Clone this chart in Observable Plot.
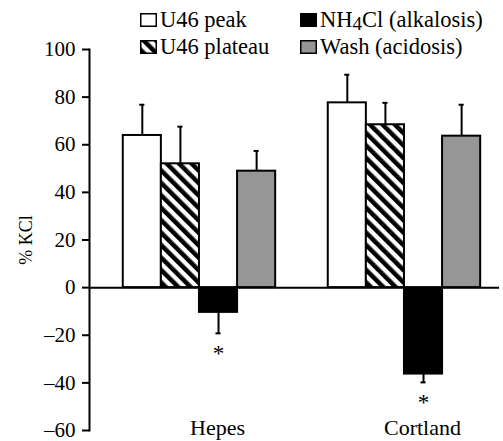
<!DOCTYPE html>
<html>
<head>
<meta charset="utf-8">
<script src="https://cdn.jsdelivr.net/npm/d3@7"></script>
<script src="https://cdn.jsdelivr.net/npm/@observablehq/plot@0.6"></script>
<style>
  html, body { margin: 0; padding: 0; background: white; overflow: hidden; }
  #wrap { position: relative; width: 503px; height: 441px; font-family: "Liberation Serif", "Times New Roman", serif; }
  #legend { position: absolute; left: 140px; top: 6px; display: grid; grid-template-columns: 160px auto; grid-template-rows: 27px 27px; grid-auto-flow: column; font-size: 22.5px; color: black; }
  .item { display: flex; align-items: baseline; height: 27px; line-height: 27px; white-space: nowrap; }
  .item svg { margin-right: 3px; flex: none; }
  sub { font-size: 0.85em; vertical-align: -0.15em; line-height: 0; }
</style>
</head>
<body>
<div id="wrap"><div id="legend"></div></div>
<script>
// ---- data ----
const groups = ["Hepes", "Cortland"];
const series = ["U46 peak", "U46 plateau", "NH4Cl (alkalosis)", "Wash (acidosis)"];
const hepesMean = [63.9, 52.0, -10.4, 48.9];
const hepesErr = [12.9, 15.6, 8.8, 8.5];
const cortlandMean = [77.6, 68.4, -36.3, 63.6];
const cortlandErr = [11.8, 9.2, 3.5, 13.2];
const hepesSig = [false, false, true, false];
const cortlandSig = [false, false, true, false];
const yTicks = [-60, -40, -20, 0, 20, 40, 60, 80, 100];
const yLabel = "% KCl";

// ---- styles ----
const fills = ["white", "url(#hatch)", "black", "#969696"];

const table = [];
[[hepesMean, hepesErr, hepesSig], [cortlandMean, cortlandErr, cortlandSig]].forEach(([m, e, s], gi) => {
  series.forEach((name, i) => {
    table.push({group: groups[gi], series: name, value: m[i], err: e[i], sig: s[i], end: m[i] + Math.sign(m[i]) * e[i]});
  });
});

const chart = Plot.plot({
  width: 503,
  height: 441,
  marginTop: 49,
  marginBottom: 11,
  marginLeft: 89,
  marginRight: 4,
  style: {fontFamily: "'Liberation Serif', 'Times New Roman', serif", fontSize: "21px", background: "white", color: "black", overflow: "visible"},
  fx: {domain: groups, padding: 0, round: false},
  x: {domain: series, paddingInner: 0, paddingOuter: 0.69, align: 0.642, round: false, axis: null},
  y: {domain: [-60, 100]},
  color: {domain: series, range: fills},
  marks: [
    Plot.barY(table, {fx: "group", x: "series", y: "value", fill: "series", stroke: "black", strokeWidth: 2}),
    Plot.ruleY([0], {stroke: "black", strokeWidth: 2}),
    Plot.ruleX(table, {fx: "group", x: "series", y1: "value", y2: "end", stroke: "black", strokeWidth: 2}),
    Plot.tickY(table, {fx: "group", x: "series", y: "end", stroke: "black", strokeWidth: 2, insetLeft: 16.5, insetRight: 16.5}),
    Plot.text(table.filter(d => d.sig), {fx: "group", x: "series", y: "end", text: () => "*", dy: 20, fontSize: 23}),
    Plot.frame({anchor: "left", facetAnchor: "left", stroke: "black", strokeWidth: 2}),
    Plot.axisY({ticks: yTicks, tickSize: 7, tickPadding: 7, strokeWidth: 2, fontSize: 21, label: null, tickFormat: d => d < 0 ? "\u2013" + Math.abs(d) : String(d)}),
    Plot.axisY({ticks: [], tickSize: 0, label: yLabel, labelAnchor: "center", labelArrow: "none", labelOffset: 70, fontSize: 18}),
    Plot.axisFx({anchor: "bottom", tickSize: 0, tickPadding: 0, dy: -11, dx: 25.5, fontSize: 22, label: null})
  ]
});

const svg = chart.tagName.toLowerCase() === "svg" ? chart : chart.querySelector("svg");
const defs = document.createElementNS("http://www.w3.org/2000/svg", "defs");
defs.innerHTML = '<pattern id="hatch" patternUnits="userSpaceOnUse" width="8.8" height="8.8" patternTransform="rotate(-45)"><rect width="8.8" height="8.8" fill="white"/><rect width="4.5" height="8.8" fill="black"/></pattern>';
svg.prepend(defs);

const wrap = document.getElementById("wrap");
wrap.prepend(chart);

// legend
const legend = document.getElementById("legend");
series.forEach((name, i) => {
  const item = document.createElement("div");
  item.className = "item";
  const label = name.replace("NH4", "NH<sub>4</sub>");
  item.innerHTML = `<svg width="17" height="14"><rect x="0.75" y="0.75" width="15.5" height="12.5" fill="${fills[i]}" stroke="black" stroke-width="1.5"/></svg><span>${label}</span>`;
  legend.appendChild(item);
});
</script>
</body>
</html>
